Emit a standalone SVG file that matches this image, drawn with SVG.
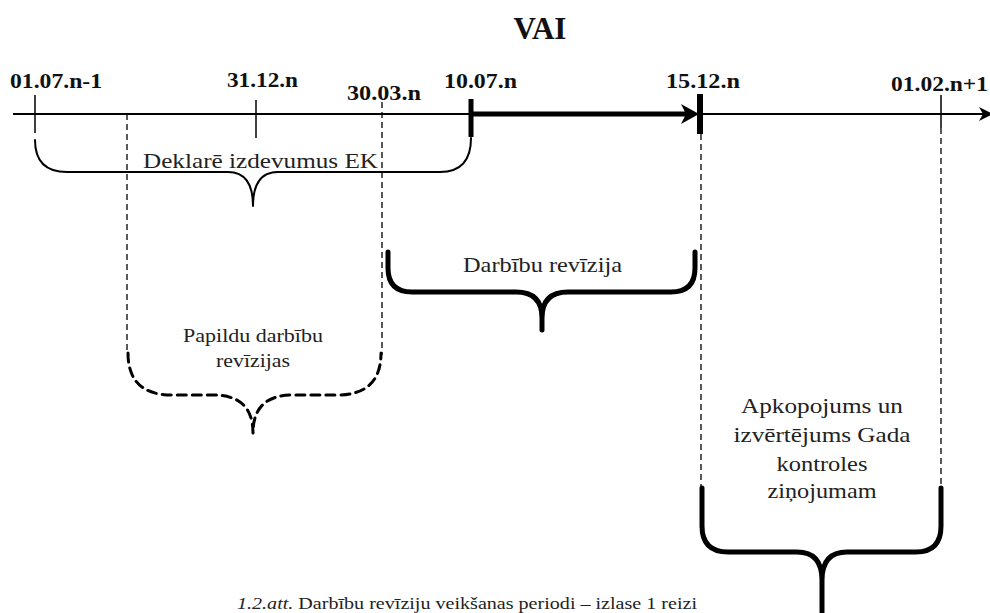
<svg xmlns="http://www.w3.org/2000/svg" width="990" height="613" viewBox="0 0 990 613">
<style>
.lbl{font-family:"Liberation Serif","Times New Roman",serif;font-weight:bold;font-size:22px;fill:#111}
.txt{font-family:"Liberation Serif","Times New Roman",serif;font-size:22px;fill:#222}
.sm{font-family:"Liberation Serif","Times New Roman",serif;font-size:19px;fill:#222}
.thin{stroke:#000;stroke-width:2;fill:none}
.tick{stroke:#000;stroke-width:1.5;fill:none}
.dash{stroke:#000;stroke-width:1.3;stroke-dasharray:6 4;fill:none}
.brace{stroke:#000;fill:none;stroke-linejoin:round;stroke-linecap:round}
</style>
<rect width="990" height="613" fill="#fff"/>
<text x="540" y="39" text-anchor="middle" style="font-family:'Liberation Serif','Times New Roman',serif;font-weight:bold;font-size:31px" fill="#111">VAI</text>

<g id="connectors">
  <line class="thin" x1="13" y1="114" x2="984" y2="114"/>
  <polygon points="993,114 979,107 983,114 979,121" fill="#000"/>
  <line x1="473" y1="114" x2="686" y2="114" stroke="#000" stroke-width="5"/>
  <polygon points="699,114 681,104 686,114 681,124" fill="#000"/>
  <line class="dash" x1="127" y1="114" x2="127" y2="353"/>
  <line class="dash" x1="382" y1="102" x2="382" y2="355"/>
  <line class="dash" x1="701" y1="134" x2="701" y2="488"/>
  <line class="dash" x1="941" y1="128" x2="941" y2="488"/>
</g>

<g id="tick-0107">
  <line class="tick" x1="35" y1="95" x2="35" y2="133"/>
  <text class="lbl" x="10" y="88" textLength="92" lengthAdjust="spacingAndGlyphs">01.07.n-1</text>
</g>
<g id="tick-3112">
  <line class="tick" x1="256" y1="100" x2="256" y2="138"/>
  <text class="lbl" x="227" y="87" textLength="71" lengthAdjust="spacingAndGlyphs">31.12.n</text>
</g>
<g id="tick-3003">
  <text class="lbl" x="347" y="100" textLength="74" lengthAdjust="spacingAndGlyphs">30.03.n</text>
</g>
<g id="tick-1007">
  <line x1="471" y1="99" x2="471" y2="137" stroke="#000" stroke-width="5"/>
  <text class="lbl" x="444" y="88" textLength="73" lengthAdjust="spacingAndGlyphs">10.07.n</text>
</g>
<g id="tick-1512">
  <line x1="700" y1="94" x2="700" y2="134" stroke="#000" stroke-width="6"/>
  <text class="lbl" x="666" y="88" textLength="74" lengthAdjust="spacingAndGlyphs">15.12.n</text>
</g>
<g id="tick-0102">
  <line class="tick" x1="941" y1="95" x2="941" y2="128"/>
  <text class="lbl" x="891" y="91" textLength="97" lengthAdjust="spacingAndGlyphs">01.02.n+1</text>
</g>

<g id="brace-deklare">
  <path class="brace" stroke-width="2" d="M35,140 Q35,172 67,172 L228,172 Q253,172 253,206 Q253,172 278,172 L440,172 Q471,172 471,138"/>
  <text class="txt" x="143" y="168" textLength="235" lengthAdjust="spacingAndGlyphs">Deklarē izdevumus EK</text>
</g>

<g id="brace-darbibu">
  <path class="brace" stroke-width="5" d="M388,252 L388,268 Q388,292 412,292 L516,292 Q542,292 542,318 L542,330 M542,318 Q542,292 568,292 L671,292 Q695,292 695,268 L695,252"/>
  <text class="txt" x="463" y="272" textLength="159" lengthAdjust="spacingAndGlyphs">Darbību revīzija</text>
</g>

<g id="brace-papildu">
  <path class="brace" stroke-width="3" stroke-dasharray="9 6" stroke-linecap="butt" d="M128,353 Q128,395 172,395 L213,395 Q253,395 253,433 Q253,395 293,395 L337,395 Q381,395 381,353"/>
  <text class="sm" x="253" y="342" text-anchor="middle" textLength="140" lengthAdjust="spacingAndGlyphs">Papildu darbību</text>
  <text class="sm" x="253" y="367" text-anchor="middle" textLength="74" lengthAdjust="spacingAndGlyphs">revīzijas</text>
</g>

<g id="brace-apkopojums">
  <path class="brace" stroke-width="5" d="M702,488 L702,526 Q702,552 728,552 L797,552 Q822,552 822,580 L822,612 M822,580 Q822,552 847,552 L916,552 Q941,552 941,526 L941,488"/>
  <text class="txt" x="822" y="413" text-anchor="middle" textLength="162" lengthAdjust="spacingAndGlyphs">Apkopojums un</text>
  <text class="txt" x="822" y="442" text-anchor="middle" textLength="177" lengthAdjust="spacingAndGlyphs">izvērtējums Gada</text>
  <text class="txt" x="822" y="471" text-anchor="middle" textLength="91" lengthAdjust="spacingAndGlyphs">kontroles</text>
  <text class="txt" x="822" y="498" text-anchor="middle" textLength="109" lengthAdjust="spacingAndGlyphs">ziņojumam</text>
</g>

<text x="237" y="609" textLength="460" lengthAdjust="spacingAndGlyphs" style="font-family:'Liberation Serif','Times New Roman',serif;font-size:16px" fill="#222"><tspan font-style="italic">1.2.att.</tspan> Darbību revīziju veikšanas periodi – izlase 1 reizi</text>
</svg>
